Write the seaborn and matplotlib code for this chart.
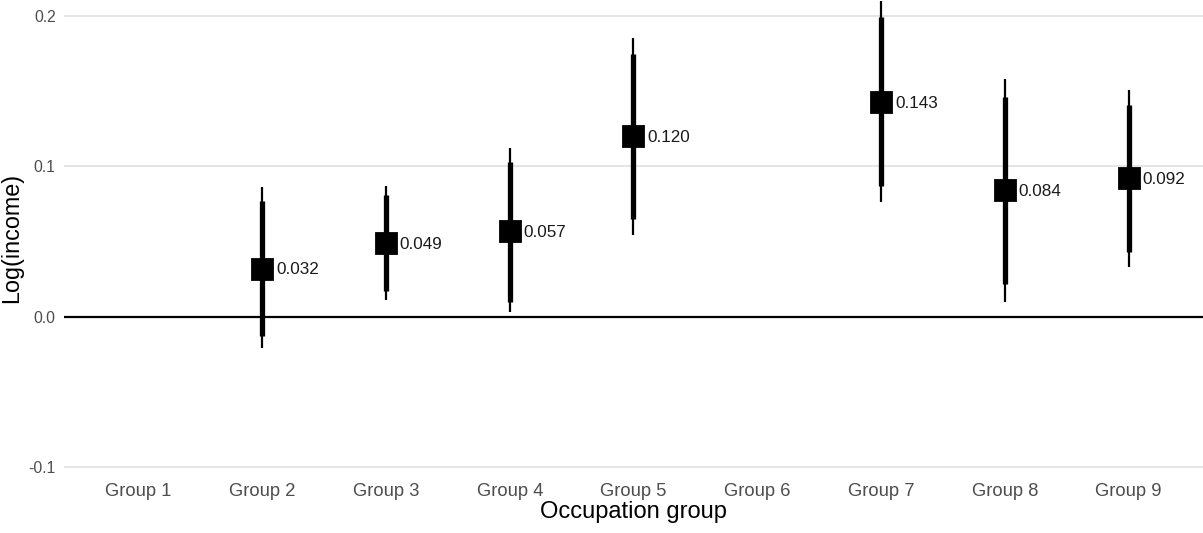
import matplotlib
matplotlib.use("Agg")
import matplotlib.pyplot as plt
import seaborn as sns
import pandas as pd

groups = ["Group 1", "Group 2", "Group 3", "Group 4", "Group 5",
          "Group 6", "Group 7", "Group 8", "Group 9"]
est_groups = ["Group 2", "Group 3", "Group 4", "Group 5", "Group 7", "Group 8", "Group 9"]
coef = [0.032, 0.049, 0.057, 0.120, 0.143, 0.084, 0.092]
ci90_lo = [-0.013, 0.017, 0.010, 0.065, 0.087, 0.022, 0.043]
ci90_hi = [0.077, 0.081, 0.103, 0.175, 0.199, 0.146, 0.141]
ci95_lo = [-0.021, 0.011, 0.003, 0.054, 0.076, 0.010, 0.033]
ci95_hi = [0.086, 0.087, 0.112, 0.185, 0.210, 0.158, 0.151]
yticks = [-0.1, 0.0, 0.1, 0.2]

df = pd.DataFrame({"group": est_groups, "coef": coef,
                   "lo90": ci90_lo, "hi90": ci90_hi,
                   "lo95": ci95_lo, "hi95": ci95_hi})

sns.set_theme(style="white")
plt.rcParams["font.family"] = ["Liberation Sans", "DejaVu Sans"]

fig = plt.figure(figsize=(12.03, 5.33), dpi=100)
ax = fig.add_axes([0.0532, 0.107, 0.9468, 0.893])

# gridlines and zero line
for t in yticks:
    if t != 0.0:
        ax.axhline(t, color="#dedede", lw=1.1, zorder=0)
ax.axhline(0.0, color="black", lw=1.6, zorder=1)

pos = [groups.index(g) for g in df["group"]]
ax.vlines(pos, df["lo95"], df["hi95"], color="black", lw=1.6, zorder=2)
ax.vlines(pos, df["lo90"], df["hi90"], color="black", lw=3.8, zorder=2)

sns.pointplot(data=df, x="group", y="coef", order=groups, color="black",
              linestyle="none", marker="s", markersize=15, errorbar=None,
              ax=ax, zorder=3)

for p, v in zip(pos, df["coef"]):
    ax.annotate(f"{v:.3f}", (p, v), xytext=(10, -1), textcoords="offset points",
                ha="left", va="center", fontsize=12.3, color="#1a1a1a", zorder=4)

ax.set_xlim(-0.6, len(groups) - 0.4)
ax.set_ylim(-0.106, 0.2106)
ax.set_yticks(yticks)
ax.set_yticklabels(["-0.1", "0.0", "0.1", "0.2"])
ax.tick_params(axis="both", length=0, colors="#4d4d4d")
ax.tick_params(axis="x", labelsize=13.2, pad=5)
ax.tick_params(axis="y", labelsize=11.3, pad=6)
ax.set_xlabel("Occupation group", fontsize=17, color="black", labelpad=1)
ax.set_ylabel("Log(income)", fontsize=16.8, color="black", labelpad=4)
for s in ax.spines.values():
    s.set_visible(False)
ax.grid(False)

fig.savefig("out.png", dpi=100)
